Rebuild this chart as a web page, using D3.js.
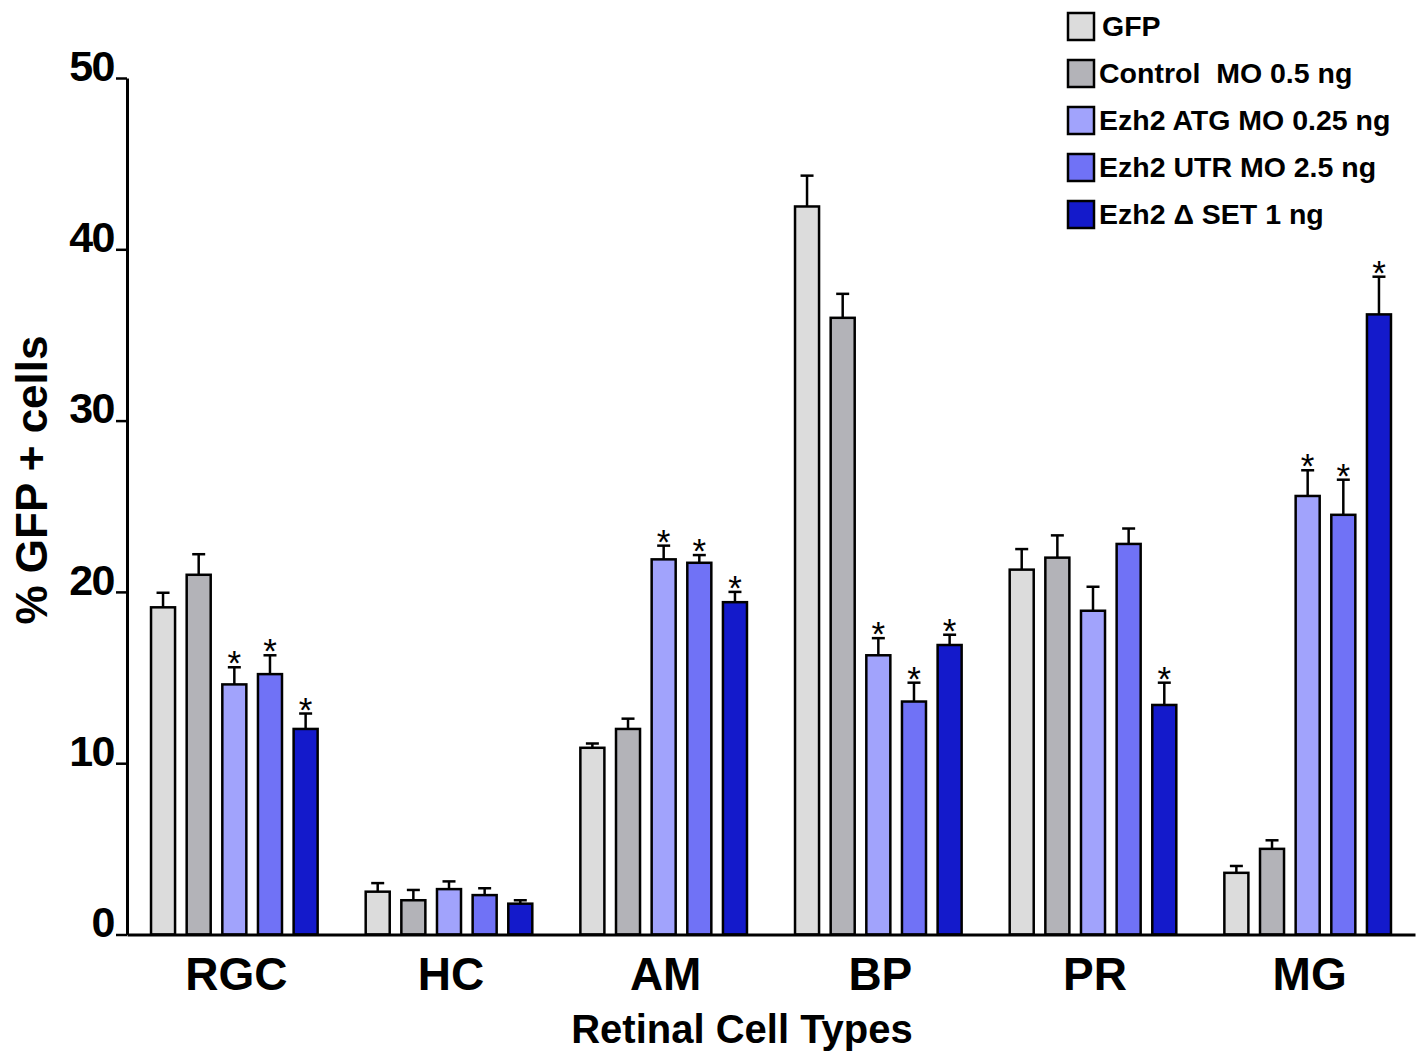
<!DOCTYPE html>
<html>
<head>
<meta charset="utf-8">
<script src="https://cdn.jsdelivr.net/npm/d3@7"></script>
<style>
  body { margin: 0; background: #fff; }
  svg { display: block; font-family: "Liberation Sans", Arial, sans-serif; }
</style>
</head>
<body>
<div id="chart"></div>
<script>
var categories = ["RGC", "HC", "AM", "BP", "PR", "MG"];
var seriesNames = ["GFP", "Control  MO 0.5 ng", "Ezh2 ATG MO 0.25 ng", "Ezh2 UTR MO 2.5 ng", "Ezh2 \u0394 SET 1 ng"];
var seriesColors = ["#dcdcdc", "#b3b3b8", "#a1a3fc", "#7072f6", "#141acb"];

var gfpMean     = [19.1, 2.5, 10.9, 42.5, 21.3, 3.6];
var controlMean = [21.0, 2.0, 12.0, 36.0, 22.0, 5.0];
var atgMean     = [14.6, 2.65, 21.9, 16.3, 18.9, 25.6];
var utrMean     = [15.2, 2.3, 21.7, 13.6, 22.8, 24.5];
var setMean     = [12.0, 1.8, 19.4, 16.9, 13.4, 36.2];

var gfpErr      = [0.85, 0.5, 0.25, 1.8, 1.2, 0.4];
var controlErr  = [1.2, 0.6, 0.6, 1.4, 1.3, 0.5];
var atgErr      = [1.0, 0.45, 0.8, 1.0, 1.4, 1.5];
var utrErr      = [1.1, 0.4, 0.45, 1.1, 0.9, 2.05];
var setErr      = [0.9, 0.2, 0.6, 0.6, 1.3, 2.2];

var gfpSig      = [0, 0, 0, 0, 0, 0];
var controlSig  = [0, 0, 0, 0, 0, 0];
var atgSig      = [1, 0, 1, 1, 0, 1];
var utrSig      = [1, 0, 1, 1, 0, 1];
var setSig      = [1, 0, 1, 1, 1, 1];

var yTicks = [0, 10, 20, 30, 40, 50];

var means = [gfpMean, controlMean, atgMean, utrMean, setMean];
var errs = [gfpErr, controlErr, atgErr, utrErr, setErr];
var sigs = [gfpSig, controlSig, atgSig, utrSig, setSig];

var width = 1422, height = 1052;
var plotLeft = 127, plotRight = 1415, plotTop = 78, plotBottom = 934.5;

var svg = d3.select("#chart").append("svg")
    .attr("width", width)
    .attr("height", height);

var x = d3.scaleBand()
    .domain(categories)
    .range([plotLeft, plotRight])
    .padding(0);

var xInner = d3.scaleBand()
    .domain(d3.range(seriesNames.length))
    .range([0, x.bandwidth()])
    .paddingInner(0.326)
    .paddingOuter(0.674);

var y = d3.scaleLinear()
    .domain([0, 50])
    .range([plotBottom, plotTop]);

// rows of bar data
var rows = [];
categories.forEach((c, ci) => {
    seriesNames.forEach((s, si) => {
        rows.push({ cat: c, s: si, v: means[si][ci], e: errs[si][ci], sig: sigs[si][ci] });
    });
});

var cx = d => x(d.cat) + xInner(d.s) + xInner.bandwidth() / 2;

var bars = svg.append("g");

// error bars (upper only)
var eb = bars.selectAll(".eb").data(rows).enter().append("g");
eb.append("line")
    .attr("x1", cx)
    .attr("x2", cx)
    .attr("y1", d => y(d.v))
    .attr("y2", d => y(d.v + d.e))
    .style("stroke", "#000")
    .style("stroke-width", "2.5px");
eb.append("line")
    .attr("x1", d => cx(d) - 6.5)
    .attr("x2", d => cx(d) + 6.5)
    .attr("y1", d => y(d.v + d.e))
    .attr("y2", d => y(d.v + d.e))
    .style("stroke", "#000")
    .style("stroke-width", "2.5px");

bars.selectAll("rect").data(rows).enter().append("rect")
    .attr("x", d => x(d.cat) + xInner(d.s))
    .attr("y", d => y(d.v))
    .attr("width", xInner.bandwidth())
    .attr("height", d => y(0) - y(d.v))
    .style("fill", d => seriesColors[d.s])
    .style("stroke", "#000")
    .style("stroke-width", "2.5px");

// asterisks
bars.selectAll(".star").data(rows.filter(d => d.sig)).enter().append("text")
    .attr("x", cx)
    .attr("y", d => y(d.v + d.e) + 8)
    .attr("text-anchor", "middle")
    .style("font-size", "35px")
    .text("*");

// y axis
var yAxis = d3.axisLeft(y)
    .tickValues(yTicks)
    .tickSizeInner(11)
    .tickSizeOuter(0)
    .tickPadding(2);

var gy = svg.append("g")
    .attr("transform", "translate(" + plotLeft + ",0)")
    .call(yAxis);

gy.select(".domain")
    .style("stroke", "#000")
    .style("stroke-width", "3px");
gy.selectAll(".tick line")
    .style("stroke", "#000")
    .style("stroke-width", "2.5px");
gy.selectAll(".tick text")
    .attr("dy", "0.05em")
    .style("font-family", "'Liberation Sans', Arial, sans-serif")
    .style("font-weight", "bold")
    .style("font-size", "43px")
    .style("letter-spacing", "-1.5px")
    .style("fill", "#000");

// x axis line
var xAxis = d3.axisBottom(x).tickSize(0).tickFormat("");
var gx = svg.append("g")
    .attr("transform", "translate(0," + plotBottom + ")")
    .call(xAxis);
gx.select(".domain")
    .style("stroke", "#000")
    .style("stroke-width", "3px");

// category labels
svg.append("g").selectAll("text").data(categories).enter().append("text")
    .attr("x", d => x(d) + x.bandwidth() / 2 + 2)
    .attr("y", 990)
    .attr("text-anchor", "middle")
    .style("font-weight", "bold")
    .style("font-size", "46px")
    .text(d => d);

// axis titles
svg.append("text")
    .attr("x", 742)
    .attr("y", 1043)
    .attr("text-anchor", "middle")
    .style("font-weight", "bold")
    .style("font-size", "40px")
    .text("Retinal Cell Types");

svg.append("text")
    .attr("transform", "translate(47,480) rotate(-90)")
    .attr("text-anchor", "middle")
    .style("font-weight", "bold")
    .style("font-size", "44px")
    .text("% GFP + cells");

// legend
var legend = svg.append("g")
    .attr("transform", "translate(1068,13)");

var li = legend.selectAll("g").data(seriesNames).enter().append("g")
    .attr("transform", (d, i) => "translate(0," + (i * 47) + ")");

li.append("rect")
    .attr("width", 26)
    .attr("height", 27)
    .style("fill", (d, i) => seriesColors[i])
    .style("stroke", "#000")
    .style("stroke-width", "2.5px");

li.append("text")
    .attr("x", (d, i) => i == 0 ? 34 : 31)
    .attr("y", 23)
    .style("font-weight", "bold")
    .style("font-size", "28.5px")
    .style("white-space", "pre")
    .text(d => d);
</script>
</body>
</html>
